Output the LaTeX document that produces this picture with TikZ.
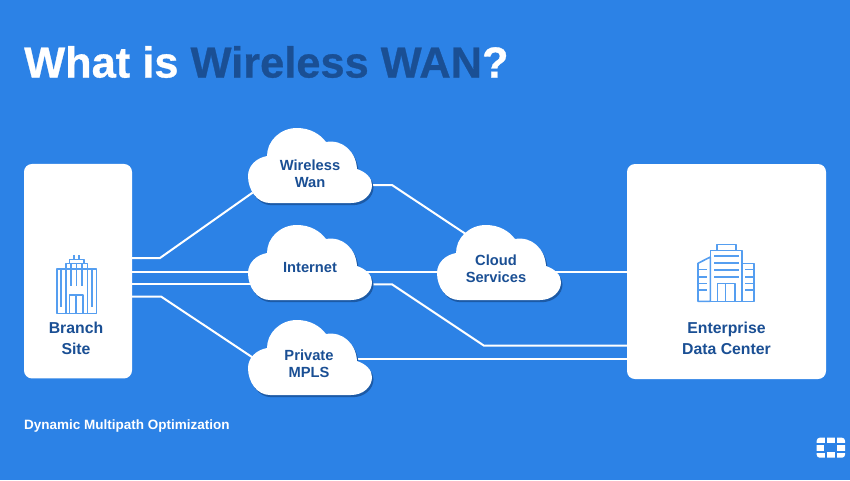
\documentclass[tikz,border=0pt]{standalone}
\usepackage{fontspec}
\setmainfont{Liberation Sans}
\newfontfamily\heavyfont{Liberation Sans}[BoldFeatures={FakeBold=0.7}]
\usetikzlibrary{backgrounds}
\definecolor{wanblue}{HTML}{2C82E6}
\definecolor{wandark}{HTML}{1A4F94}
\definecolor{wanshadow}{HTML}{1C5AA6}
\definecolor{wanicon}{HTML}{559EF0}
\tikzset{
  panel/.style={fill=white,rounded corners=8pt,inner sep=0pt},
  link/.style={draw=white,line width=2pt},
  label/.style={text=wandark,align=center,font=\bfseries\fontsize{14.7}{17.5}\selectfont},
  boxlabel/.style={text=wandark,align=center,font=\bfseries\fontsize{15.8}{20.8}\selectfont},
  icon/.style={draw=wanicon,line width=1.6pt,line join=round},
  cloudpath/.pic={
    \fill[wanshadow,shift={(1.5,2.2)}] (22,75) .. controls (9,75) and (0,62) .. (0,48) .. controls (0,38) and (8,30) .. (19,28) .. controls (19,13) and (32,0) .. (49,0) .. controls (62,0) and (72,6) .. (78,14) .. controls (95,11) and (108,24) .. (109,41) .. controls (118,44) and (124,50) .. (124,57) .. controls (124,67) and (115,75) .. (103,75) -- cycle;
    \fill[white] (22,75) .. controls (9,75) and (0,62) .. (0,48) .. controls (0,38) and (8,30) .. (19,28) .. controls (19,13) and (32,0) .. (49,0) .. controls (62,0) and (72,6) .. (78,14) .. controls (95,11) and (108,24) .. (109,41) .. controls (118,44) and (124,50) .. (124,57) .. controls (124,67) and (115,75) .. (103,75) -- cycle;
  }
}
\begin{document}
\begin{tikzpicture}[x=1pt,y=-1pt]
\useasboundingbox (0,0) rectangle (850,480);
% title and footer
\node[anchor=west,text=white,inner sep=0pt,font=\heavyfont\bfseries\fontsize{43.4}{46}\selectfont] (title) at (24,62) {What is {\color{wandark}Wireless WAN}?};
\node[anchor=west,text=white,inner sep=0pt,font=\bfseries\fontsize{13.5}{15}\selectfont] (footer) at (24,426) {Dynamic Multipath Optimization};
% end boxes
\node[panel,minimum width=108pt,minimum height=214.5pt] (branch) at (78,271.2) {};
\node[panel,minimum width=199pt,minimum height=215pt] (enterprise) at (726.5,271.5) {};
\node[boxlabel] (branchtext) at (76,338.5) {Branch\\Site};
\node[boxlabel] (enterprisetext) at (726.5,338.5) {Enterprise\\Data Center};
% clouds
\pic at (248,128) {cloudpath};
\pic at (248,225) {cloudpath};
\pic at (248,320) {cloudpath};
\pic at (437,225) {cloudpath};
\node[label] (wireless) at (310,173.5) {Wireless\\Wan};
\node[label] (internet) at (310,268) {Internet};
\node[label] (private) at (309,363.5) {Private\\MPLS};
\node[label] (services) at (496,268.5) {Cloud\\Services};
% branch icon
\draw[icon] (56.7,313.3) rectangle (96.3,269);
\draw[icon] (65.7,313.3) -- (65.7,263.3) -- (87.3,263.3) -- (87.3,313.3);
\draw[icon] (69.3,263.3) -- (69.3,259.3) -- (84,259.3) -- (84,263.3);
\draw[icon] (73.7,259.3) -- (73.7,254.7) (79,259.3) -- (79,254.7);
\draw[icon] (69.3,313.3) -- (69.3,295) -- (82.7,295) -- (82.7,313.3);
\draw[icon] (76,295) -- (76,313.3);
\draw[icon] (61,269) -- (61,306.7) (91.7,269) -- (91.7,306.7);
\draw[icon] (71,263.3) -- (71,286) (76.3,263.3) -- (76.3,286) (81.7,263.3) -- (81.7,286);
% enterprise icon
\draw[icon] (698,301.3) -- (698,263.3) -- (710.3,257) -- (710.3,301.3) -- cycle;
\draw[icon] (742,263.3) -- (754,263.3) -- (754,301.3) -- (742,301.3);
\draw[icon] (710.3,250.3) rectangle (742,301.3);
\draw[icon] (716.7,250.3) rectangle (735.7,244.3);
\foreach \y in {255.7,262.7,269.7,276.7} \draw[icon] (714,\y) -- (738.7,\y);
\draw[icon] (717.3,301.3) rectangle (735,283.3);
\draw[icon] (725.3,283.3) -- (725.3,301.3);
\foreach \y in {269.3,276.7,283.3,290} {
  \draw[icon] (698,\y) -- (706.7,\y);
  \draw[icon] (745,\y) -- (754,\y);
}
% logo
\fill[white,rounded corners=3pt] (816.7,437.7) rectangle (845,457.7);
\fill[wanblue] (824.3,442.7) rectangle (836.7,452.3);
\draw[wanblue,line width=2pt] (825.5,437) -- (825.5,443) (835.8,437) -- (835.8,443) (825.5,452) -- (825.5,458) (835.8,452) -- (835.8,458);
\draw[wanblue,line width=2pt] (816,443.8) -- (825,443.8) (836,443.8) -- (846,443.8) (816,451.5) -- (825,451.5) (836,451.5) -- (846,451.5);
% connectors
\coordinate (wirelessturn) at (160,258);
\coordinate (wirelessin) at (262,186);
\coordinate (wirelessout) at (372,185);
\coordinate (wirelessbend) at (392,185);
\coordinate (servicesin) at (480,243.5);
\coordinate (internetin) at (270,271.5);
\coordinate (internetlow) at (270,284.3);
\coordinate (internetbend) at (392,284.3);
\coordinate (internetfoot) at (484,345.7);
\coordinate (servicesmid) at (480,271.5);
\coordinate (privateturn) at (161,296.5);
\coordinate (privatein) at (262,363.7);
\coordinate (privatemid) at (340,359);
\begin{scope}[on background layer]
\fill[wanblue] (0,0) rectangle (850,480);
\draw[link] (branch.east |- wirelessturn) -- (wirelessturn) -- (wirelessin);
\draw[link] (wirelessout) -- (wirelessbend) -- (servicesin);
\draw[link] (branch.east |- internetin) -- (internetin);
\draw[link] (internetin) -- (servicesmid);
\draw[link] (servicesmid) -- (enterprise.west |- servicesmid);
\draw[link] (branch.east |- internetlow) -- (internetlow);
\draw[link] (internetlow) -- (internetbend) -- (internetfoot) -- (enterprise.west |- internetfoot);
\draw[link] (branch.east |- privateturn) -- (privateturn) -- (privatein);
\draw[link] (privatemid) -- (enterprise.west |- privatemid);
\end{scope}
\end{tikzpicture}
\end{document}
